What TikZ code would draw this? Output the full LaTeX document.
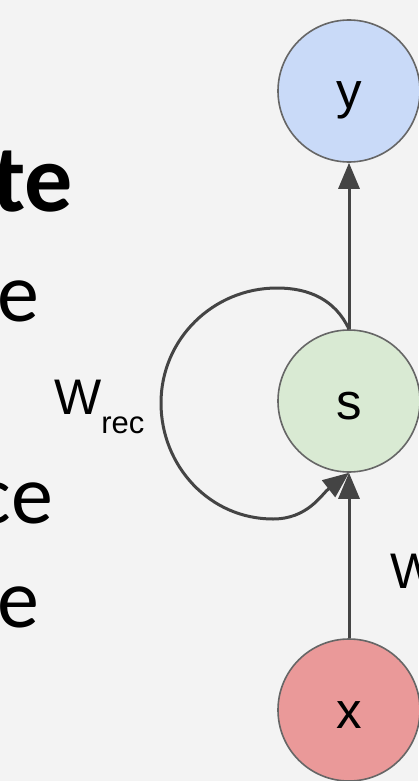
\documentclass[tikz,border=0pt]{standalone}
\usepackage{fontspec}
\setmainfont{Liberation Sans}
\newfontfamily\slidefont{Carlito}
\usetikzlibrary{arrows.meta}
\definecolor{bgc}{HTML}{F3F3F3}
\definecolor{edgec}{HTML}{444444}
\definecolor{rimc}{HTML}{666666}
\definecolor{yfill}{HTML}{C9DAF8}
\definecolor{sfill}{HTML}{D9EAD3}
\definecolor{xfill}{HTML}{EA9999}
\tikzset{
  unit/.style={circle, draw=rimc, line width=1.6pt, minimum size=142pt, inner sep=0pt,
    text height=40pt, text depth=4pt,
    font=\fontsize{51}{51}\selectfont},
  conn/.style={draw=edgec, line width=3pt, -{Triangle[length=26pt,width=21pt]}},
  slidetext/.style={inner sep=0pt, anchor=base east, font=\slidefont\fontsize{84}{84}\selectfont},
  wlab/.style={inner sep=0pt, font=\fontsize{50}{50}\selectfont}
}
\begin{document}
\begin{tikzpicture}[x=1pt,y=-1pt]
\fill[bgc] (0,0) rectangle (418,781);
\useasboundingbox (0,0) rectangle (418,781);
% left slide text fragments
\node[slidetext, font=\slidefont\bfseries\fontsize{96}{96}\selectfont] (t1) at (73,211) {te};
\node[slidetext] (t2) at (39,321) {e};
\node[slidetext] (t3) at (53,523) {ce};
\node[slidetext] (t4) at (39,627) {e};
% nodes
\node[unit, fill=yfill] (y) at (349,91) {y};
\node[unit, fill=sfill] (s) at (349,401) {s};
\node[unit, fill=xfill] (x) at (349,710) {x};
% connectors
\draw[conn] (s.north) -- (y.south);
\draw[conn] (x.north) -- (s.south);
\coordinate (lt) at (277,288);
\coordinate (ll) at (161,403);
\coordinate (lb) at (273,519);
\draw[conn] (s.north) to[out=115,in=0] (lt) to[out=180,in=90] (ll) to[out=-90,in=180] (lb) to[out=0,in=218] (s.south);
% labels
\node[wlab, anchor=base west] (wrec) at (54,414) {W\raisebox{-19pt}{\fontsize{31}{31}\selectfont rec}};
\node[wlab, anchor=base west] (win) at (390,588) {W};
\end{tikzpicture}
\end{document}
